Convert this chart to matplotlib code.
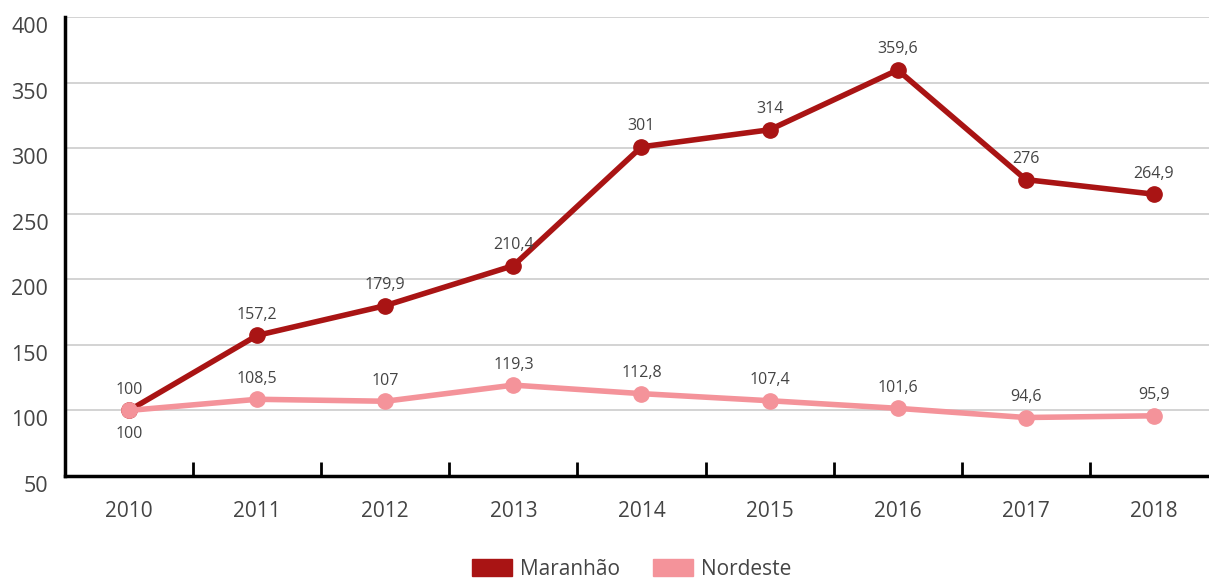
import matplotlib
matplotlib.use("Agg")
import matplotlib.pyplot as plt
from matplotlib.patches import Patch

# DATA
YEARS = ["2010", "2011", "2012", "2013", "2014", "2015", "2016", "2017", "2018"]
MARANHAO = [100, 157.2, 179.9, 210.4, 301, 314, 359.6, 276, 264.9]
NORDESTE = [100, 108.5, 107, 119.3, 112.8, 107.4, 101.6, 94.6, 95.9]
Y_TICKS = [50, 100, 150, 200, 250, 300, 350, 400]

DARK = "#a91414"
PINK = "#f4939a"
TEXT = "#444444"

plt.rcParams['font.family'] = ['Open Sans', 'DejaVu Sans']


def fmt(v):
    s = f"{v:.1f}".rstrip("0").rstrip(".")
    return s.replace(".", ",")


fig = plt.figure(figsize=(12.09, 5.78), dpi=100)
ax = fig.add_axes([65 / 1209, 1 - 476 / 578, 1 - 65 / 1209, (476 - 17) / 578])

x = list(range(len(YEARS)))
ax.plot(x, MARANHAO, color=DARK, lw=4, marker="o", ms=11, zorder=3, clip_on=False)
ax.plot(x, NORDESTE, color=PINK, lw=4, marker="o", ms=11, zorder=4, clip_on=False)

for i, v in enumerate(MARANHAO):
    ax.annotate(fmt(v), (i, v), xytext=(0, 9), textcoords="offset points",
                ha="center", va="bottom", fontsize=11.5, color=TEXT)
for i, v in enumerate(NORDESTE):
    if i == 0:
        ax.annotate(fmt(v), (i, v), xytext=(0, -11), textcoords="offset points",
                    ha="center", va="top", fontsize=11.5, color=TEXT)
    else:
        ax.annotate(fmt(v), (i, v), xytext=(0, 9), textcoords="offset points",
                    ha="center", va="bottom", fontsize=11.5, color=TEXT)

ax.set_xlim(-0.5, 8.43)
ax.set_ylim(50, 400)
ax.set_yticks(Y_TICKS)
ax.set_yticklabels([str(t) for t in Y_TICKS], va="top")
ax.set_xticks(x)
ax.set_xticklabels(YEARS)
ax.set_xticks([i + 0.5 for i in range(len(YEARS) - 1)], minor=True)
ax.tick_params(axis="x", which="major", length=0, pad=18, labelsize=15, labelcolor=TEXT)
ax.tick_params(axis="x", which="minor", direction="in", length=10, width=2, color="black")
ax.tick_params(axis="y", length=0, pad=12, labelsize=15.5, labelcolor=TEXT)

ax.grid(axis="y", color="#cccccc", lw=1.2)
ax.set_axisbelow(True)
for s in ["top", "right"]:
    ax.spines[s].set_visible(False)
for s in ["left", "bottom"]:
    ax.spines[s].set_linewidth(2.5)
    ax.spines[s].set_color("black")

handles = [Patch(color=DARK, label="Maranhão"), Patch(color=PINK, label="Nordeste")]
fig.legend(handles=handles, loc="center", bbox_to_anchor=(632 / 1209, 1 - 569.5 / 578),
           ncol=2, frameon=False, fontsize=15, handlelength=1.9, handleheight=0.85,
           columnspacing=1.6, handletextpad=0.4, labelcolor=TEXT, borderpad=0.2)

fig.savefig("out.png", dpi=100)
